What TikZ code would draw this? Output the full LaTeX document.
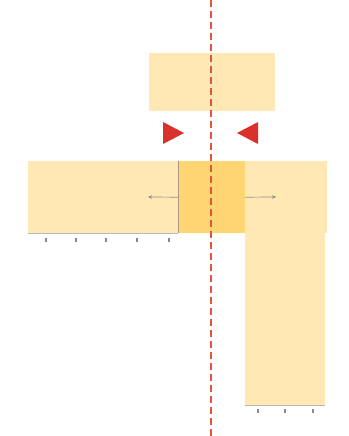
\documentclass[tikz,border=0pt]{standalone}
\usetikzlibrary{arrows.meta}
\definecolor{paleY}{HTML}{FFE8B4}
\definecolor{darkY}{HTML}{FFD574}
\definecolor{triR}{HTML}{D8322B}
\definecolor{axisR}{HTML}{E0553C}
\definecolor{lineG}{HTML}{8E8A82}
\begin{document}
\begin{tikzpicture}[x=1pt,y=-1pt,
  panel/.style={draw=none,fill=paleY,inner sep=0pt,anchor=north west},
  core/.style={draw=none,fill=darkY,inner sep=0pt,anchor=north west},
  tri/.style={fill=triR,draw=none},
  centreline/.style={color=axisR,line width=1.3pt,dash pattern=on 7pt off 4pt},
  push/.style={draw=lineG,line width=0.7pt,-{Stealth[length=4pt,width=3.5pt]}},
  tick/.style={draw=lineG,line width=1.2pt},
  base/.style={draw=lineG!60,line width=0.6pt}]
\useasboundingbox (0,0) rectangle (348,436);
% top block
\node[panel,minimum width=126pt,minimum height=58pt] (top) at (149,53) {};
% horizontal bar
\node[panel,minimum width=299pt,minimum height=72pt] (hbar) at (28,161) {};
% vertical bar
\node[panel,minimum width=80pt,minimum height=173pt] (vbar) at (245,232) {};
% darker core
\node[core,minimum width=67pt,minimum height=72pt] (mid) at (178,161) {};
\draw[draw=lineG!80!darkY,line width=0.8pt] (mid.north west) -- (mid.south west);
% baselines
\draw[base] (hbar.south west) -- (mid.south west);
\draw[base] (vbar.south west) -- (vbar.south east);
% red triangles
\coordinate (tl) at (163,122);
\coordinate (tr) at (258,122);
\fill[tri] (tl) -- ++(21,11) -- ++(-21,11) -- cycle;
\fill[tri] (tr) -- ++(-21,11) -- ++(21,11) -- cycle;
% force arrows
\coordinate (la) at (148,197);
\coordinate (ra) at (276,197);
\draw[push] (mid.west) -- (la);
\draw[push] (mid.east) -- (ra);
% ticks
\foreach \x in {46,76,106,137,169} \draw[tick] (\x,238) -- (\x,242);
\foreach \x in {258,285,313} \draw[tick] (\x,409) -- (\x,413);
% centre line
\coordinate (ax1) at (211,0);
\coordinate (ax2) at (211,436);
\draw[centreline] (ax1) -- (ax2);
\end{tikzpicture}
\end{document}
